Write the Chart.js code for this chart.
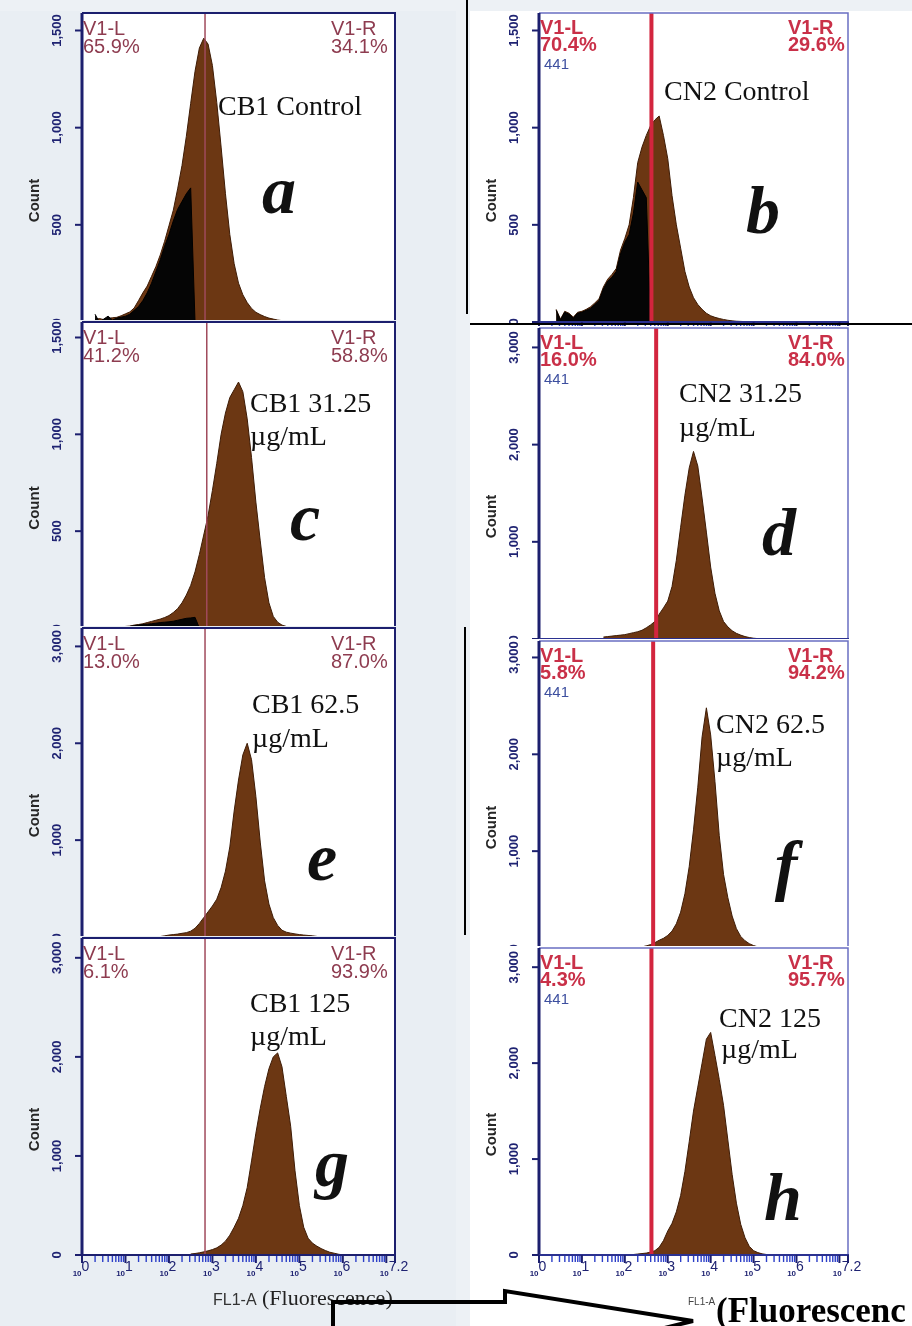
<!DOCTYPE html>
<html>
<head>
<meta charset="utf-8">
<title>FL1-A histograms</title>
<script src="https://cdn.jsdelivr.net/npm/chart.js@4.4.1/dist/chart.umd.min.js"></script>
<style>
    html, body { margin: 0; padding: 0; }
    body { position: relative; width: 912px; height: 1326px; overflow: hidden; background: #edf1f5; }
    canvas { position: absolute; }
    .rule { position: absolute; background: #000; z-index: 5; }
    #arrow { position: absolute; left: 0; top: 1280px; z-index: 6; }
</style>
</head>
<body>
<div class="rule" style="left:466px;top:0;width:2px;height:314px"></div>
<div class="rule" style="left:470px;top:323px;width:442px;height:2px"></div>
<div class="rule" style="left:464px;top:627px;width:2px;height:308px"></div>
<svg id="arrow" width="912" height="46">
    <polyline points="333,50 333,22 505,22 505,11 693,41 640,54" fill="none" stroke="#000" stroke-width="4" stroke-linejoin="miter"/>
</svg>
<script>
// x = log10 of FL1-A fluorescence, histogram bins of 0.1 decade
var fluorMax = 7.2;
var binWidth = 0.1;
var decadeTicks = [0, 1, 2, 3, 4, 5, 6, 7.2];
var decadeLabels = ['0', '1', '2', '3', '4', '5', '6', '7.2'];
var countTicksLow = [0, 500, 1000, 1500];
var countTicksHigh = [0, 1000, 2000, 3000];

var sampleNames = ['CB1 Control', 'CN2 Control', 'CB1 31.25', 'CN2 31.25', 'CB1 62.5', 'CN2 62.5', 'CB1 125', 'CN2 125'];
var sampleUnits = ['', '', 'µg/mL', 'µg/mL', 'µg/mL', 'µg/mL', 'µg/mL', 'µg/mL'];
var panelLetters = ['a', 'b', 'c', 'd', 'e', 'f', 'g', 'h'];
var gateLeftPct = ['65.9%', '70.4%', '41.2%', '16.0%', '13.0%', '5.8%', '6.1%', '4.3%'];
var gateRightPct = ['34.1%', '29.6%', '58.8%', '84.0%', '87.0%', '94.2%', '93.9%', '95.7%'];
var gatePosition = [2.83, 2.62, 2.87, 2.73, 2.83, 2.66, 2.83, 2.62];
var countMax = [1590, 1590, 1580, 3200, 3190, 3170, 3200, 3200];

var cb1ControlStart = 0.3;
var cb1ControlCounts = [12, 18, 12, 18, 22, 24, 32, 42, 52, 72, 110, 150, 185, 235, 285, 345, 415, 495, 575, 685,
    805, 955, 1125, 1290, 1410, 1460, 1430, 1320, 1130, 900, 660, 450, 300, 200, 140, 100, 70, 50, 38, 28,
    20, 15, 10, 7, 5, 4, 3, 0];
var cb1ControlLowStart = 0.3;
var cb1ControlLow = [40, 0, 15, 30, 10, 20, 25, 30, 40, 60, 80, 110, 150, 200, 260, 320, 390, 450, 520, 580,
    620, 660, 690, 0];

var cn2ControlStart = 0.4;
var cn2ControlCounts = [65, 15, 55, 45, 25, 50, 55, 65, 78, 98, 120, 180, 220, 245, 275, 370, 430, 500, 640, 820,
    900, 960, 1010, 1040, 1060, 960, 840, 650, 500, 380, 260, 180, 125, 90, 65, 45, 32, 24, 18, 13,
    9, 6, 4, 3, 2, 0];
var cn2ControlLowStart = 0.4;
var cn2ControlLow = [60, 10, 50, 40, 20, 45, 50, 60, 70, 90, 110, 170, 210, 230, 260, 350, 410, 450, 560, 720,
    680, 640, 0];

var cb1Dose1Start = 0.9;
var cb1Dose1Counts = [5, 8, 10, 15, 18, 22, 28, 34, 40, 46, 54, 64, 80, 100, 130, 170, 220, 290, 380, 480,
    580, 710, 850, 1000, 1110, 1190, 1230, 1270, 1220, 1080, 880, 650, 450, 260, 130, 60, 30, 15, 8, 4, 0];
var cb1Dose1LowStart = 1.0;
var cb1Dose1Low = [5, 8, 12, 15, 18, 20, 22, 25, 28, 30, 32, 35, 40, 45, 50, 52, 55, 0];

var cn2Dose1Start = 1.5;
var cn2Dose1Counts = [20, 25, 30, 35, 40, 45, 55, 65, 75, 90, 115, 145, 180, 255, 320, 390, 540, 810, 1150, 1480,
    1760, 1930, 1780, 1450, 1100, 740, 470, 290, 180, 125, 85, 58, 40, 25, 15, 8, 4, 0];

var cb1Dose2Start = 1.8;
var cb1Dose2Counts = [5, 12, 20, 25, 30, 38, 45, 60, 90, 140, 200, 260, 320, 390, 510, 680, 930, 1300, 1620, 1880,
    2000, 1830, 1450, 980, 580, 340, 200, 120, 70, 50, 40, 32, 25, 20, 16, 12, 6, 0];

var cn2Dose2Start = 2.3;
var cn2Dose2Counts = [5, 12, 22, 35, 55, 80, 100, 130, 175, 250, 370, 560, 840, 1220, 1660, 2180, 2480, 2200, 1720, 1160,
    760, 520, 330, 200, 120, 75, 45, 25, 12, 5, 0];

var cb1Dose3Start = 2.5;
var cb1Dose3Counts = [10, 15, 22, 32, 42, 55, 72, 100, 140, 200, 280, 370, 500, 680, 950, 1230, 1480, 1700, 1880, 2000,
    2040, 1900, 1600, 1300, 850, 500, 280, 170, 120, 90, 65, 45, 28, 18, 8, 0];

var cn2Dose3Start = 2.2;
var cn2Dose3Counts = [5, 10, 15, 20, 30, 45, 80, 150, 250, 330, 450, 620, 870, 1180, 1500, 1750, 2000, 2250, 2320, 2080,
    1830, 1560, 1200, 840, 540, 320, 180, 90, 45, 25, 12, 5, 0];

// page layout of the 2 x 4 grid
var canvasLeft = [0, 470];
var canvasWidth = [456, 442];
var plotLeft = [82, 539];
var plotRight = [395, 848];

var panels = [
    { col: 0, top: 13, base: 322, start: cb1ControlStart, counts: cb1ControlCounts, lowStart: cb1ControlLowStart, low: cb1ControlLow,
      ticks: countTicksLow, name: [218, 115], unit: null, letter: [279, 213] },
    { col: 1, top: 13, base: 322, start: cn2ControlStart, counts: cn2ControlCounts, lowStart: cn2ControlLowStart, low: cn2ControlLow,
      ticks: countTicksLow, name: [664, 100], unit: null, letter: [763, 233] },
    { col: 0, top: 322, base: 628, start: cb1Dose1Start, counts: cb1Dose1Counts, lowStart: cb1Dose1LowStart, low: cb1Dose1Low,
      ticks: countTicksLow, name: [250, 412], unit: [250, 445], letter: [305, 540] },
    { col: 1, top: 328, base: 639, start: cn2Dose1Start, counts: cn2Dose1Counts,
      ticks: countTicksHigh, name: [679, 402], unit: [679, 436], letter: [779, 555] },
    { col: 0, top: 628, base: 937, start: cb1Dose2Start, counts: cb1Dose2Counts,
      ticks: countTicksHigh, name: [252, 713], unit: [252, 747], letter: [322, 880] },
    { col: 1, top: 641, base: 948, start: cn2Dose2Start, counts: cn2Dose2Counts,
      ticks: countTicksHigh, name: [716, 733], unit: [716, 766], letter: [786, 888] },
    { col: 0, top: 938, base: 1255, start: cb1Dose3Start, counts: cb1Dose3Counts,
      ticks: countTicksHigh, name: [250, 1012], unit: [250, 1045], letter: [332, 1186], last: true },
    { col: 1, top: 948, base: 1255, start: cn2Dose3Start, counts: cn2Dose3Counts,
      ticks: countTicksHigh, name: [719, 1027], unit: [721, 1058], letter: [783, 1220], last: true }
];

var navy = '#1c1f6e';
var panelById = {};

function toPoints(start, counts) {
    return counts.map(function (c, i) {
        return { x: Math.round((start + i * binWidth) * 100) / 100, y: c };
    });
}

function rotatedText(ctx, text, x, y) {
    ctx.save();
    ctx.translate(x, y);
    ctx.rotate(-Math.PI / 2);
    ctx.textAlign = 'center';
    ctx.textBaseline = 'middle';
    ctx.fillText(text, 0, 0);
    ctx.restore();
}

var flowPanelPlugin = {
    id: 'flowPanel',
    beforeDraw: function (chart) {
        var p = panelById[chart.canvas.id];
        var ctx = chart.ctx;
        var area = chart.chartArea;
        ctx.save();
        ctx.fillStyle = p.col === 0 ? '#e9eef3' : '#ffffff';
        ctx.fillRect(0, 0, chart.width, chart.height);
        ctx.fillStyle = '#ffffff';
        ctx.fillRect(area.left, area.top, area.right - area.left, area.bottom - area.top);
        ctx.restore();
    },
    afterDatasetsDraw: function (chart) {
        var p = panelById[chart.canvas.id];
        var ctx = chart.ctx;
        var area = chart.chartArea;
        var gx = chart.scales.x.getPixelForValue(gatePosition[p.index]);
        ctx.save();
        ctx.strokeStyle = p.col === 0 ? '#a04a5c' : '#d3253e';
        ctx.lineWidth = p.col === 0 ? 1.5 : 4;
        ctx.beginPath();
        ctx.moveTo(gx, area.top);
        ctx.lineTo(gx, area.bottom);
        ctx.stroke();
        ctx.restore();
    },
    afterDraw: function (chart) {
        var p = panelById[chart.canvas.id];
        var ctx = chart.ctx;
        var area = chart.chartArea;
        var xs = chart.scales.x;
        var ys = chart.scales.y;
        var i = p.index;
        var ox = p.originX, oy = p.originY;

        ctx.save();

        // frame
        ctx.lineWidth = p.col === 0 ? 2 : 1.5;
        ctx.strokeStyle = p.col === 0 ? navy : '#6a6fc2';
        ctx.beginPath();
        ctx.moveTo(area.left, area.top);
        ctx.lineTo(area.right, area.top);
        ctx.lineTo(area.right, area.bottom);
        ctx.stroke();

        ctx.strokeStyle = navy;
        ctx.lineWidth = 3;
        ctx.beginPath();
        ctx.moveTo(area.left, area.top);
        ctx.lineTo(area.left, area.bottom);
        ctx.stroke();

        ctx.lineWidth = 2;
        ctx.strokeStyle = p.col === 0 ? navy : '#2b3190';
        ctx.beginPath();
        ctx.moveTo(area.left - 6, area.bottom);
        ctx.lineTo(area.right + 1, area.bottom);
        ctx.stroke();

        // log decade ticks under the x axis
        for (var d = 0; d <= 7; d++) {
            for (var k = 1; k <= 9; k++) {
                var v = d + Math.log10(k);
                if (v > fluorMax)
                    break;
                var px = xs.getPixelForValue(v);
                ctx.beginPath();
                if (k === 1) {
                    ctx.strokeStyle = navy;
                    ctx.lineWidth = 2;
                    ctx.moveTo(px, area.bottom);
                    ctx.lineTo(px, area.bottom + 8);
                } else {
                    ctx.strokeStyle = '#2c3fc8';
                    ctx.lineWidth = 1.4;
                    ctx.moveTo(px, area.bottom + 1);
                    ctx.lineTo(px, area.bottom + 7);
                }
                ctx.stroke();
            }
        }
        var endX = xs.getPixelForValue(fluorMax);
        ctx.strokeStyle = navy;
        ctx.lineWidth = 2;
        ctx.beginPath();
        ctx.moveTo(endX, area.bottom);
        ctx.lineTo(endX, area.bottom + 8);
        ctx.stroke();

        // count axis
        ctx.fillStyle = '#1f2372';
        ctx.font = 'bold 13px "Liberation Sans", Arial, sans-serif';
        p.ticks.forEach(function (t) {
            var py = ys.getPixelForValue(t);
            ctx.strokeStyle = navy;
            ctx.lineWidth = 2;
            ctx.beginPath();
            ctx.moveTo(area.left - 7, py);
            ctx.lineTo(area.left, py);
            ctx.stroke();
            rotatedText(ctx, t.toLocaleString('en-US'), area.left - 25, py);
        });
        ctx.fillStyle = '#262626';
        ctx.font = 'bold 15px "Liberation Sans", Arial, sans-serif';
        rotatedText(ctx, 'Count', area.left - 47, (area.top + area.bottom) / 2 + 33);

        // decade labels on the bottom row
        if (p.last) {
            ctx.fillStyle = '#1f2372';
            ctx.textBaseline = 'alphabetic';
            ctx.textAlign = 'left';
            decadeTicks.forEach(function (t, j) {
                var tx = xs.getPixelForValue(t);
                ctx.font = 'bold 8px "Liberation Sans", Arial, sans-serif';
                var w1 = ctx.measureText('10').width;
                ctx.font = '14px "Liberation Sans", Arial, sans-serif';
                var w2 = ctx.measureText(decadeLabels[j]).width;
                var x0 = tx - (w1 + w2) / 2 - 1;
                ctx.font = 'bold 8px "Liberation Sans", Arial, sans-serif';
                ctx.fillText('10', x0, area.bottom + 21);
                ctx.font = '14px "Liberation Sans", Arial, sans-serif';
                ctx.fillText(decadeLabels[j], x0 + w1, area.bottom + 16);
            });
        }

        // gate percentages
        ctx.textBaseline = 'alphabetic';
        ctx.textAlign = 'left';
        if (p.col === 0) {
            ctx.fillStyle = '#8e3c50';
            ctx.font = '20px "Liberation Sans", Arial, sans-serif';
            ctx.fillText('V1-L', area.left + 1, area.top + 22);
            ctx.fillText(gateLeftPct[i], area.left + 1, area.top + 40);
            ctx.fillText('V1-R', area.right - 64, area.top + 22);
            ctx.fillText(gateRightPct[i], area.right - 64, area.top + 40);
        } else {
            ctx.fillStyle = '#c93048';
            ctx.font = 'bold 20px "Liberation Sans", Arial, sans-serif';
            ctx.fillText('V1-L', area.left + 1, area.top + 21);
            ctx.fillText(gateLeftPct[i], area.left + 1, area.top + 38);
            ctx.fillText('V1-R', area.right - 60, area.top + 21);
            ctx.fillText(gateRightPct[i], area.right - 60, area.top + 38);
            ctx.fillStyle = '#3d4f9f';
            ctx.font = '15px "Liberation Sans", Arial, sans-serif';
            ctx.fillText('441', area.left + 5, area.top + 56);
        }

        // sample name and panel letter
        ctx.fillStyle = '#111111';
        ctx.font = '28px "Liberation Serif", "Times New Roman", serif';
        ctx.fillText(sampleNames[i], p.name[0] - ox, p.name[1] - oy);
        if (p.unit)
            ctx.fillText(sampleUnits[i], p.unit[0] - ox, p.unit[1] - oy);
        ctx.textAlign = 'center';
        ctx.font = 'italic bold 68px "Liberation Serif", "Times New Roman", serif';
        ctx.fillText(panelLetters[i], p.letter[0] - ox, p.letter[1] - oy);

        // x axis titles
        ctx.textAlign = 'left';
        if (p.last && p.col === 0) {
            ctx.fillStyle = '#333333';
            ctx.font = '16px "Liberation Sans", Arial, sans-serif';
            ctx.fillText('FL1-A', 213 - ox, 1305 - oy);
            ctx.fillStyle = '#222222';
            ctx.font = '22px "Liberation Serif", "Times New Roman", serif';
            ctx.fillText('(Fluorescence)', 262 - ox, 1305 - oy);
        }
        if (p.last && p.col === 1) {
            ctx.fillStyle = '#444444';
            ctx.font = '10px "Liberation Sans", Arial, sans-serif';
            ctx.fillText('FL1-A', 688 - ox, 1305 - oy);
            ctx.fillStyle = '#000000';
            ctx.font = 'bold 35px "Liberation Serif", "Times New Roman", serif';
            ctx.fillText('(Fluorescenc', 716 - ox, 1322 - oy);
        }

        ctx.restore();
    }
};

panels.forEach(function (p, i) {
    var canvas = document.createElement('canvas');
    canvas.id = 'panel-' + panelLetters[i];
    p.index = i;
    panelById[canvas.id] = p;

    var left = canvasLeft[p.col];
    var width = canvasWidth[p.col];
    var top = p.top - 2;
    var bottom = p.last ? 1326 : p.base + 7;
    var height = bottom - top;
    p.originX = left;
    p.originY = top;

    canvas.width = width;
    canvas.height = height;
    canvas.style.left = left + 'px';
    canvas.style.top = top + 'px';
    canvas.style.width = width + 'px';
    canvas.style.height = height + 'px';
    document.body.appendChild(canvas);

    var datasets = [];
    if (p.low) {
        datasets.push({
            data: toPoints(p.lowStart, p.low),
            borderColor: '#000000',
            backgroundColor: '#050505',
            borderWidth: 1,
            fill: 'origin'
        });
    }
    datasets.push({
        data: toPoints(p.start, p.counts),
        borderColor: '#3e1c06',
        backgroundColor: '#6c3713',
        borderWidth: 1,
        fill: 'origin'
    });

    new Chart(canvas.getContext('2d'), {
        type: 'line',
        data: { datasets: datasets },
        options: {
            responsive: false,
            animation: false,
            events: [],
            layout: {
                padding: {
                    left: plotLeft[p.col] - left,
                    right: left + width - plotRight[p.col],
                    top: 2,
                    bottom: bottom - p.base
                }
            },
            elements: {
                point: { radius: 0 },
                line: { tension: 0 }
            },
            scales: {
                x: { type: 'linear', min: 0, max: fluorMax, display: false },
                y: { min: 0, max: countMax[i], display: false }
            },
            plugins: {
                legend: { display: false },
                tooltip: { enabled: false }
            }
        },
        plugins: [flowPanelPlugin]
    });
});
</script>
</body>
</html>
